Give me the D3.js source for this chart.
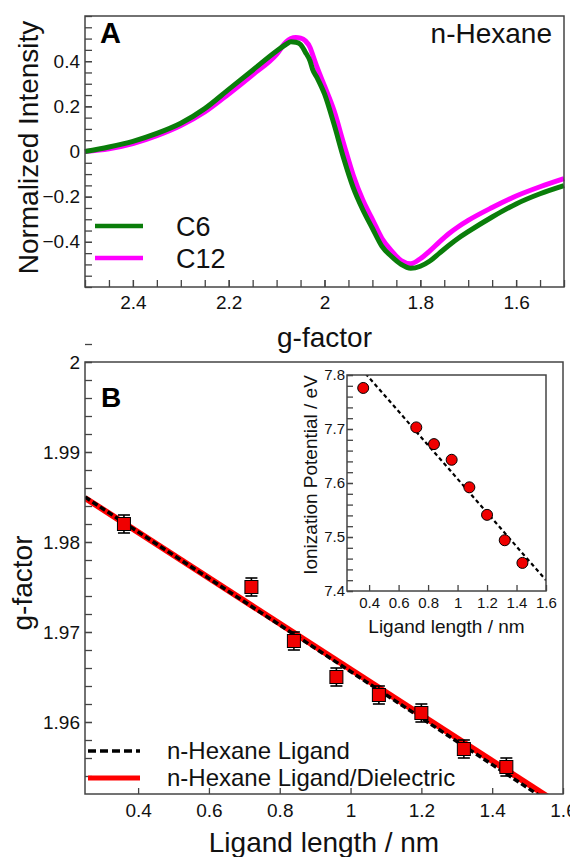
<!DOCTYPE html>
<html>
<head>
<meta charset="utf-8">
<script src="https://cdn.jsdelivr.net/npm/d3@7/dist/d3.min.js"></script>
<style>
  body { margin: 0; background: #fff; }
  svg { font-family: "Liberation Sans", Arial, sans-serif; }
  .tick text { fill: #111; }
</style>
</head>
<body>
<svg id="chart" width="570" height="857"></svg>
<script>
// ---- panel A: EPR spectra (g-factor vs normalized intensity)
const gValues = [2.5, 2.45, 2.4, 2.35, 2.3, 2.25, 2.2, 2.15, 2.1, 2.08, 2.07, 2.06, 2.05, 2.04, 2.03, 2.025, 2.015, 2.0, 1.98, 1.96, 1.94, 1.92, 1.9, 1.88, 1.86, 1.84, 1.82, 1.8, 1.78, 1.76, 1.74, 1.72, 1.7, 1.65, 1.6, 1.55, 1.5];
const c6Values = [0.0, 0.02, 0.045, 0.08, 0.125, 0.19, 0.275, 0.36, 0.445, 0.475, 0.486, 0.484, 0.474, 0.44, 0.40, 0.365, 0.325, 0.255, 0.12, -0.03, -0.16, -0.258, -0.34, -0.42, -0.465, -0.5, -0.517, -0.508, -0.485, -0.45, -0.415, -0.383, -0.355, -0.29, -0.232, -0.187, -0.151];
const c12Values = [0.0, 0.012, 0.035, 0.07, 0.115, 0.175, 0.255, 0.34, 0.43, 0.485, 0.5, 0.505, 0.502, 0.49, 0.46, 0.43, 0.37, 0.29, 0.18, 0.035, -0.105, -0.215, -0.3, -0.385, -0.44, -0.483, -0.497, -0.475, -0.44, -0.4, -0.363, -0.332, -0.305, -0.248, -0.197, -0.156, -0.12];
const seriesA = ["C6", "C12"];
const aXTicks = [2.4, 2.2, 2.0, 1.8, 1.6];
const aYTicks = [-0.4, -0.2, 0, 0.2, 0.4];

// ---- panel B: g-factor vs ligand length
const ligandLength = [0.36, 0.72, 0.84, 0.96, 1.08, 1.2, 1.32, 1.44];
const gFactor = [1.982, 1.975, 1.969, 1.965, 1.963, 1.961, 1.957, 1.955];
const gError = [0.001, 0.001, 0.001, 0.001, 0.001, 0.001, 0.001, 0.001];
const fitX = [0.25, 1.6];
const fitLigand = [1.985, 1.9501];
const fitDielectric = [1.9849, 1.9506];
const seriesB = ["n-Hexane Ligand", "n-Hexane Ligand/Dielectric"];
const bXTicks = [0.4, 0.6, 0.8, 1.0, 1.2, 1.4, 1.6];
const bYTicks = [1.96, 1.97, 1.98, 1.99, 2.0];

// ---- inset: ionization potential
const ionPotential = [7.776, 7.703, 7.672, 7.643, 7.592, 7.541, 7.494, 7.452];
const insetFitY = [7.842, 7.42];
const insetXTicks = [0.4, 0.6, 0.8, 1.0, 1.2, 1.4, 1.6];
const insetYTicks = [7.4, 7.5, 7.6, 7.7, 7.8];

const svg = d3.select("#chart");
const fmt = d3.format("~g");
const frameColor = "#444";

function frame(g, x0, y0, x1, y1) {
  g.append("rect")
    .attr("x", x0).attr("y", y0)
    .attr("width", x1 - x0).attr("height", y1 - y0)
    .attr("fill", "none")
    .attr("stroke", frameColor)
    .attr("stroke-width", 1.5);
}

function styleAxis(sel, size) {
  sel.select(".domain").remove();
  sel.selectAll(".tick line").attr("stroke", frameColor).attr("stroke-width", 1.3);
  sel.selectAll(".tick text").attr("font-size", size);
}

// ================= panel A =================
const A = { left: 85, right: 564, top: 16, bottom: 287 };
const xA = d3.scaleLinear().domain([2.5, 1.5]).range([A.left, A.right]);
const yA = d3.scaleLinear().domain([-0.6, 0.6]).range([A.bottom, A.top]);
const gA = svg.append("g");

gA.append("g").attr("transform", `translate(0,${A.bottom})`)
  .call(d3.axisBottom(xA).tickValues(d3.range(0, 21).map(i => 1.5 + i * 0.05)).tickSize(-7).tickFormat(""))
  .call(s => styleAxis(s, 19));
gA.append("g").attr("transform", `translate(0,${A.bottom})`)
  .call(d3.axisBottom(xA).tickValues(aXTicks).tickSize(-7).tickPadding(9).tickFormat(fmt))
  .call(s => styleAxis(s, 19));
gA.append("g").attr("transform", `translate(${A.left},0)`)
  .call(d3.axisLeft(yA).tickValues(d3.range(-12, 13).map(i => i * 0.05)).tickSize(-7).tickFormat(""))
  .call(s => styleAxis(s, 19));
gA.append("g").attr("transform", `translate(${A.left},0)`)
  .call(d3.axisLeft(yA).tickValues(aYTicks).tickSize(-7).tickPadding(5).tickFormat(fmt))
  .call(s => styleAxis(s, 19));

const lineA = d3.line().x(d => xA(d[0])).y(d => yA(d[1])).curve(d3.curveMonotoneX);
const colorsA = { C6: "#0a7d0a", C12: "#ff00ff" };
gA.append("path")
  .attr("d", lineA(gValues.map((g, i) => [g, c12Values[i]])))
  .attr("fill", "none").attr("stroke", colorsA.C12).attr("stroke-width", 5);
gA.append("path")
  .attr("d", lineA(gValues.map((g, i) => [g, c6Values[i]])))
  .attr("fill", "none").attr("stroke", colorsA.C6).attr("stroke-width", 5);

frame(gA, A.left, A.top, A.right, A.bottom);

// legend A
seriesA.forEach((name, i) => {
  const y = 226 + i * 32;
  gA.append("line").attr("x1", 95).attr("x2", 143).attr("y1", y).attr("y2", y)
    .attr("stroke", colorsA[name]).attr("stroke-width", 4.5);
  gA.append("text").attr("x", 176).attr("y", y + 9.5).attr("font-size", 27).attr("fill", "#111").text(name);
});

gA.append("text").attr("x", 100).attr("y", 43).attr("font-size", 29).attr("font-weight", "bold").text("A");
gA.append("text").attr("x", 552).attr("y", 43).attr("font-size", 28).attr("text-anchor", "end").attr("fill", "#111").text("n-Hexane");
gA.append("text").attr("x", (A.left + A.right) / 2).attr("y", 347).attr("font-size", 28)
  .attr("text-anchor", "middle").attr("fill", "#111").text("g-factor");
gA.append("text").attr("transform", `translate(38,${(A.top + A.bottom) / 2 - 4}) rotate(-90)`)
  .attr("font-size", 28).attr("text-anchor", "middle").attr("fill", "#111").text("Normalized Intensity");

// ================= panel B =================
const B = { left: 85, right: 563, top: 362, bottom: 794 };
const xB = d3.scaleLinear().domain([0.25, 1.6]).range([B.left, B.right]);
const yB = d3.scaleLinear().domain([1.952, 2.0]).range([B.bottom, B.top]);
const gB = svg.append("g");

svg.append("defs").append("clipPath").attr("id", "clipB")
  .append("rect").attr("x", B.left).attr("y", B.top).attr("width", B.right - B.left).attr("height", B.bottom - B.top);

gB.append("g").attr("transform", `translate(0,${B.bottom})`)
  .call(d3.axisBottom(xB).tickValues(bXTicks).tickSize(-6).tickPadding(10).tickFormat(fmt))
  .call(s => styleAxis(s, 19));
gB.append("g").attr("transform", `translate(${B.left},0)`)
  .call(d3.axisLeft(yB).tickValues(d3.range(0, 25).map(i => 1.954 + i * 0.002)).tickSize(-7).tickFormat(""))
  .call(s => styleAxis(s, 19));
gB.append("g").attr("transform", `translate(${B.left},0)`)
  .call(d3.axisLeft(yB).tickValues(bYTicks).tickSize(-7).tickPadding(5).tickFormat(fmt))
  .call(s => styleAxis(s, 19));

const fitLine = d3.line().x(d => xB(d[0])).y(d => yB(d[1]));
const fitGroup = gB.append("g").attr("clip-path", "url(#clipB)");
fitGroup.append("path").attr("d", fitLine(fitX.map((x, i) => [x, fitDielectric[i]])))
  .attr("stroke", "#ff0000").attr("stroke-width", 6).attr("fill", "none");
fitGroup.append("path").attr("d", fitLine(fitX.map((x, i) => [x, fitLigand[i]])))
  .attr("stroke", "#000").attr("stroke-width", 3.5).attr("stroke-dasharray", "6,3").attr("fill", "none");

// error bars and squares
const pts = ligandLength.map((x, i) => ({ x, y: gFactor[i], e: gError[i] }));
const eb = gB.append("g").attr("stroke", "#000").attr("stroke-width", 1.6);
pts.forEach(p => {
  const cx = xB(p.x);
  eb.append("line").attr("x1", cx).attr("x2", cx).attr("y1", yB(p.y - p.e)).attr("y2", yB(p.y + p.e));
  [p.y - p.e, p.y + p.e].forEach(v => {
    eb.append("line").attr("x1", cx - 6).attr("x2", cx + 6).attr("y1", yB(v)).attr("y2", yB(v));
  });
});
gB.selectAll("rect.pt").data(pts).join("rect").attr("class", "pt")
  .attr("x", d => xB(d.x) - 6.5).attr("y", d => yB(d.y) - 6.5)
  .attr("width", 13).attr("height", 13)
  .attr("fill", "#f00000").attr("stroke", "#000").attr("stroke-width", 1);

frame(gB, B.left, B.top, B.right, B.bottom);

// legend B
seriesB.forEach((name, i) => {
  const y = 751 + i * 27;
  const ln = gB.append("line").attr("x1", 88).attr("x2", 140).attr("y1", y).attr("y2", y);
  if (i === 0) ln.attr("stroke", "#000").attr("stroke-width", 3.5).attr("stroke-dasharray", "8,4");
  else ln.attr("stroke", "#ff0000").attr("stroke-width", 5);
  gB.append("text").attr("x", 167).attr("y", y + 8).attr("font-size", 24).attr("fill", "#111").text(name);
});

gB.append("text").attr("x", 101).attr("y", 407).attr("font-size", 28).attr("font-weight", "bold").text("B");
gB.append("text").attr("x", (B.left + B.right) / 2).attr("y", 852).attr("font-size", 28)
  .attr("text-anchor", "middle").attr("fill", "#111").text("Ligand length / nm");
gB.append("text").attr("transform", `translate(32,${(B.top + B.bottom) / 2 + 5}) rotate(-90)`)
  .attr("font-size", 28).attr("text-anchor", "middle").attr("fill", "#111").text("g-factor");

// ================= inset =================
const I = { left: 347, right: 546, top: 375, bottom: 591 };
const xI = d3.scaleLinear().domain([0.25, 1.6]).range([I.left, I.right]);
const yI = d3.scaleLinear().domain([7.4, 7.8]).range([I.bottom, I.top]);
const gI = svg.append("g");

svg.select("defs").append("clipPath").attr("id", "clipI")
  .append("rect").attr("x", I.left).attr("y", I.top).attr("width", I.right - I.left).attr("height", I.bottom - I.top);

gI.append("g").attr("transform", `translate(0,${I.bottom})`)
  .call(d3.axisBottom(xI).tickValues(insetXTicks).tickSize(-6).tickPadding(6).tickFormat(fmt))
  .call(s => styleAxis(s, 15));
gI.append("g").attr("transform", `translate(${I.left},0)`)
  .call(d3.axisLeft(yI).tickValues(d3.range(0, 21).map(i => 7.4 + i * 0.02)).tickSize(-6).tickFormat(""))
  .call(s => styleAxis(s, 15));
gI.append("g").attr("transform", `translate(${I.left},0)`)
  .call(d3.axisLeft(yI).tickValues(insetYTicks).tickSize(-6).tickPadding(2).tickFormat(fmt))
  .call(s => styleAxis(s, 15));

gI.append("g").attr("clip-path", "url(#clipI)").append("path")
  .attr("d", d3.line().x(d => xI(d[0])).y(d => yI(d[1]))(fitX.map((x, i) => [x, insetFitY[i]])))
  .attr("stroke", "#000").attr("stroke-width", 2.2).attr("stroke-dasharray", "4,3").attr("fill", "none");

gI.selectAll("circle").data(ligandLength.map((x, i) => [x, ionPotential[i]])).join("circle")
  .attr("cx", d => xI(d[0])).attr("cy", d => yI(d[1])).attr("r", 5.5)
  .attr("fill", "#f00000").attr("stroke", "#000").attr("stroke-width", 1);

frame(gI, I.left, I.top, I.right, I.bottom);

gI.append("text").attr("x", (I.left + I.right) / 2).attr("y", 633).attr("font-size", 19)
  .attr("text-anchor", "middle").attr("fill", "#111").text("Ligand length / nm");
gI.append("text").attr("transform", `translate(317,${(I.top + I.bottom) / 2 - 8}) rotate(-90)`)
  .attr("font-size", 19).attr("text-anchor", "middle").attr("fill", "#111").text("Ionization Potential / eV");
</script>
</body>
</html>
